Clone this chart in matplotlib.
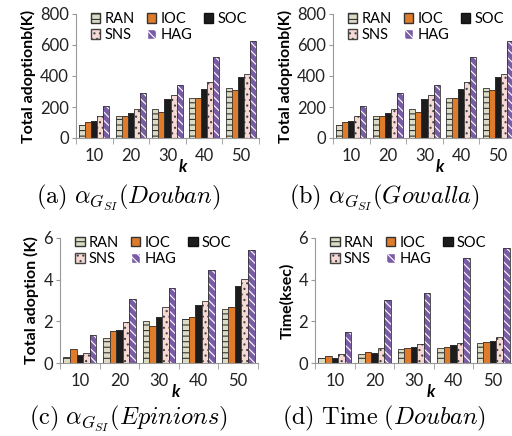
import numpy as np
import matplotlib
matplotlib.use("Agg")
import matplotlib.pyplot as plt
from matplotlib.patches import Patch

plt.rcParams['font.family'] = ['Lato', 'DejaVu Sans']
plt.rcParams['mathtext.fontset'] = 'cm'
plt.rcParams['hatch.linewidth'] = 0.8

# datos
k_vals = ['10', '20', '30', '40', '50']
methods = ['RAN', 'IOC', 'SOC', 'SNS', 'HAG']

douban = {
    'RAN': [85, 140, 190, 260, 320],
    'IOC': [100, 145, 170, 260, 312],
    'SOC': [110, 160, 250, 315, 392],
    'SNS': [140, 185, 275, 360, 410],
    'HAG': [205, 290, 345, 525, 628],
}
gowalla = {
    'RAN': [85, 140, 190, 260, 320],
    'IOC': [100, 145, 170, 260, 312],
    'SOC': [110, 160, 250, 315, 392],
    'SNS': [140, 185, 275, 360, 410],
    'HAG': [205, 290, 345, 525, 628],
}
epinions = {
    'RAN': [0.28, 1.22, 2.02, 2.10, 2.58],
    'IOC': [0.68, 1.52, 1.80, 2.22, 2.70],
    'SOC': [0.38, 1.57, 2.20, 2.78, 3.68],
    'SNS': [0.48, 1.95, 2.70, 3.00, 4.05],
    'HAG': [1.35, 3.05, 3.60, 4.48, 5.42],
}
time_douban = {
    'RAN': [0.25, 0.45, 0.65, 0.72, 0.97],
    'IOC': [0.35, 0.55, 0.72, 0.78, 1.02],
    'SOC': [0.22, 0.50, 0.78, 0.85, 1.08],
    'SNS': [0.42, 0.70, 0.90, 0.97, 1.25],
    'HAG': [1.50, 3.02, 3.37, 5.02, 5.52],
}

# estilos
face = {'RAN': '#dcdcc6', 'IOC': '#e07b2a', 'SOC': '#1c1c1c', 'SNS': '#f6d9d4', 'HAG': '#7a5ca6'}
hatch = {'RAN': '---', 'IOC': None, 'SOC': None, 'SNS': '...', 'HAG': '\\\\\\\\'}
hcol = {'RAN': '#333333', 'IOC': '#333333', 'SOC': '#111111', 'SNS': '#444444', 'HAG': 'white'}

fig = plt.figure(figsize=(5.12, 4.36), dpi=100)

panels = [
    (douban, [76/512, 1-138/436, 183/512, 124/436], 800, 200, 'Total adoptionb(K)',
     r'$\mathrm{(a)}\ \alpha_{G_{SI}}(Douban)$', 128, 197),
    (gowalla, [333/512, 1-138/436, 183/512, 124/436], 800, 200, 'Total adoptionb(K)',
     r'$\mathrm{(b)}\ \alpha_{G_{SI}}(Gowalla)$', 384, 197),
    (epinions, [60/512, 1-363/436, 198/512, 125/436], 6, 2, 'Total adoption (K)',
     r'$\mathrm{(c)}\ \alpha_{G_{SI}}(Epinions)$', 128, 418),
    (time_douban, [315/512, 1-363/436, 198/512, 125/436], 6, 2, 'Time(ksec)',
     r'$\mathrm{(d)\ Time\ (}Douban\mathrm{)}$', 384, 418),
]

x = np.arange(len(k_vals))
w = 0.165

for data, rect, ymax, ystep, ylabel, caption, cap_x, cap_y in panels:
    ax = fig.add_axes(rect)
    for i, m in enumerate(methods):
        pos = x + (i - 2) * w
        ax.bar(pos, data[m], w, color=face[m], edgecolor=hcol[m], hatch=hatch[m], linewidth=0)
        ax.bar(pos, data[m], w, fill=False, edgecolor='#333333', linewidth=0.6)
    ax.set_xlim(-0.5, 4.5)
    ax.set_ylim(0, ymax)
    ax.set_yticks(np.arange(0, ymax + 0.001, ystep))
    ax.set_xticks(x)
    ax.set_xticklabels(k_vals, fontsize=12)
    ax.set_xticks(np.arange(-0.5, 4.6, 1), minor=True)
    ax.tick_params(axis='x', which='major', length=0, pad=7, labelcolor='#222222')
    ax.tick_params(axis='x', which='minor', length=4, color='#999999', direction='out')
    ax.tick_params(axis='y', length=3, color='#999999', labelsize=12, pad=2, labelcolor='#222222')
    for s in ['top', 'right']:
        ax.spines[s].set_visible(False)
    for s in ['left', 'bottom']:
        ax.spines[s].set_color('#999999')
        ax.spines[s].set_linewidth(0.8)
    ax.set_ylabel(ylabel, fontsize=11.5, fontweight='bold', labelpad=3)
    ax.text(0.585, -0.17, 'k', transform=ax.transAxes, fontsize=12,
            fontweight='bold', style='italic', ha='center', va='top')
    handles = [Patch(facecolor=face[m], edgecolor=hcol[m], hatch=hatch[m], label=m) for m in methods]
    order = [0, 3, 1, 4, 2]
    ax.legend([handles[j] for j in order], [methods[j] for j in order], ncol=3,
              loc='upper left', bbox_to_anchor=(0.025, 1.1), frameon=False,
              fontsize=10.5, handlelength=0.65, handleheight=0.65, handletextpad=0.3,
              columnspacing=0.8, labelspacing=0.15, borderpad=0.2)
    fig.text(cap_x / 512, 1 - cap_y / 436, caption, fontsize=17.5,
             ha='center', va='center')

fig.savefig('out.png', dpi=100)
